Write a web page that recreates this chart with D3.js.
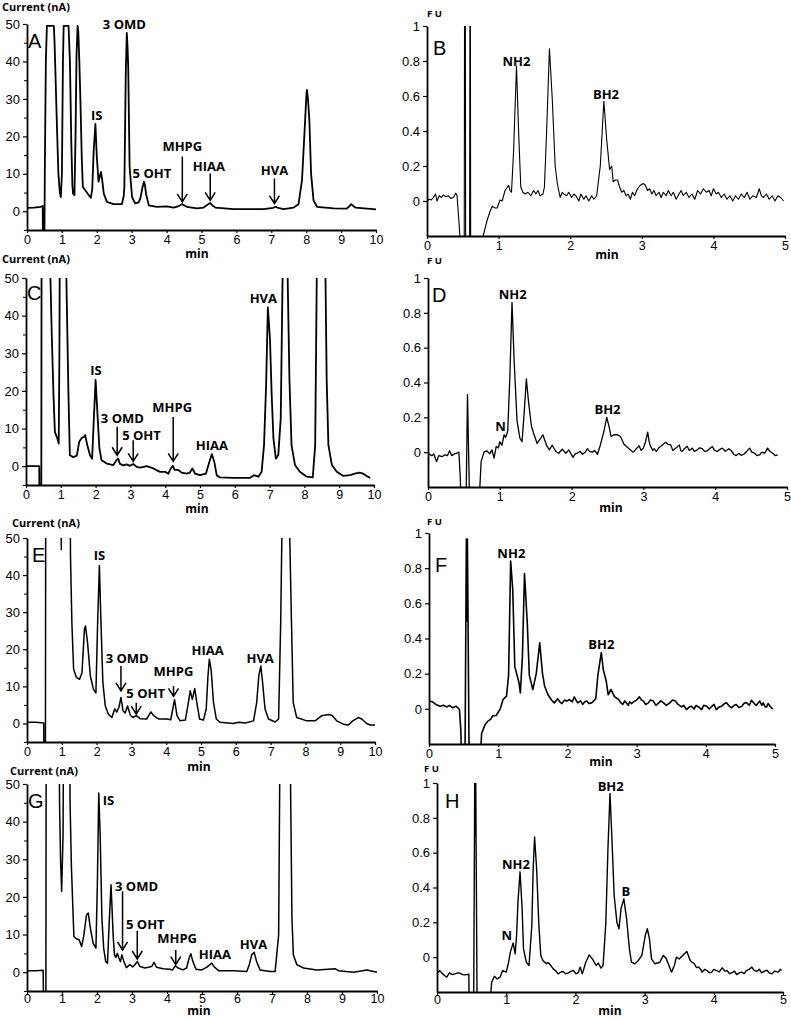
<!DOCTYPE html>
<html><head><meta charset="utf-8">
<script src="https://cdn.jsdelivr.net/npm/d3@7"></script>
<style>body{margin:0;background:#fff} svg{display:block}</style>
</head><body><svg id="c" width="791" height="1019"></svg>
<script>
// ---------- tick values ----------
const ecXTicks = [0,1,2,3,4,5,6,7,8,9,10];
const ecYTicks = [0,10,20,30,40,50];
const ecYMinor = [-5,5,15,25,35,45];
const fuXTicks = [0,1,2,3,4,5];
const fuYTicks = [0,0.2,0.4,0.6,0.8,1];
const fuYTickLabels = ["0","0.2","0.4","0.6","0.8","1"];

// ---------- traces [time(min), signal] ----------
const traceA = [[0,0.9],[0.2,1.0],[0.38,1.2],[0.45,1.4],[0.455,-6],[0.5,-6],[0.51,10],[0.54,40],[0.57,49.5],[0.77,49.5],[0.79,45],[0.81,38.6],[0.86,22],[0.9,10],[0.94,5],[0.97,3.8],[1.0,10],[1.03,40],[1.05,49.5],[1.19,49.5],[1.23,40],[1.27,18],[1.3,7],[1.32,4.7],[1.36,4.3],[1.39,20],[1.42,42],[1.45,49.5],[1.47,48],[1.5,40],[1.53,29.7],[1.57,14],[1.6,6.5],[1.67,5.6],[1.77,4.3],[1.83,3.6],[1.87,6],[1.91,16],[1.96,23.3],[2.0,14.6],[2.05,7.9],[2.09,9.5],[2.12,10.5],[2.16,8],[2.2,4.7],[2.29,2.5],[2.48,1.9],[2.72,1.9],[2.77,4],[2.79,6.5],[2.83,36.9],[2.86,47.6],[2.88,44],[2.9,38.7],[2.94,11.9],[3.01,3.8],[3.1,2.1],[3.2,2.4],[3.25,3.5],[3.3,6],[3.35,7.9],[3.38,7],[3.41,4.7],[3.49,1.6],[3.72,1.2],[4.01,1.3],[4.2,1.0],[4.35,1.4],[4.44,1.9],[4.58,1.2],[4.87,0.8],[5.06,1.0],[5.18,1.8],[5.25,2.2],[5.32,1.5],[5.4,1.0],[5.92,0.6],[6.78,0.6],[7.05,0.9],[7.12,1.2],[7.2,0.9],[7.35,0.6],[7.64,1.0],[7.78,1.9],[7.88,8.3],[7.95,20.8],[8.0,30],[8.02,32.4],[8.05,30],[8.09,24.4],[8.14,10],[8.21,2.9],[8.31,1.2],[8.79,0.8],[9.16,0.7],[9.22,1.2],[9.29,1.9],[9.35,1.4],[9.41,1.0],[10,0.5]];

const traceB = [[0,0.0],[0.03,0.01],[0.06,0.006],[0.09,0.02],[0.12,0.04],[0.14,0.0],[0.17,0.03],[0.2,0.02],[0.23,0.035],[0.26,0.025],[0.3,0.03],[0.33,0.015],[0.37,0.02],[0.4,0.045],[0.42,0.03],[0.46,-0.2],[0.47,-0.3],[0.52,-0.3],[0.525,1.3],[0.535,1.3],[0.54,-0.3],[0.595,-0.3],[0.6,1.3],[0.605,1.3],[0.61,-0.3],[0.77,-0.3],[0.79,-0.19],[0.84,-0.11],[0.88,-0.06],[0.91,-0.03],[0.95,-0.04],[0.98,-0.04],[1.02,0.006],[1.05,0.0],[1.09,0.06],[1.14,0.09],[1.16,0.06],[1.18,0.05],[1.21,0.29],[1.25,0.77],[1.28,0.39],[1.31,0.08],[1.34,0.05],[1.37,0.04],[1.41,0.05],[1.45,0.03],[1.49,0.06],[1.52,0.04],[1.55,0.06],[1.58,0.03],[1.62,0.04],[1.64,0.08],[1.67,0.39],[1.71,0.87],[1.75,0.58],[1.79,0.2],[1.82,0.1],[1.86,0.02],[1.89,0.05],[1.91,0.04],[1.95,0.03],[1.98,0.05],[2.02,0.02],[2.05,0.04],[2.08,0.03],[2.12,0.0],[2.15,0.04],[2.19,0.01],[2.22,0.03],[2.26,0.0],[2.3,0.03],[2.33,0.01],[2.37,0.03],[2.42,0.2],[2.47,0.57],[2.51,0.35],[2.55,0.18],[2.58,0.2],[2.6,0.11],[2.63,0.12],[2.66,0.12],[2.69,0.08],[2.72,0.05],[2.75,0.06],[2.78,0.03],[2.81,0.04],[2.84,0.01],[2.87,0.05],[2.9,0.03],[2.94,0.07],[2.98,0.09],[3.02,0.1],[3.05,0.09],[3.08,0.06],[3.11,0.07],[3.14,0.04],[3.17,0.06],[3.2,0.03],[3.24,0.05],[3.27,0.02],[3.3,0.05],[3.34,0.03],[3.37,0.06],[3.41,0.03],[3.44,0.05],[3.48,0.01],[3.52,0.04],[3.55,0.06],[3.58,0.03],[3.62,0.05],[3.66,0.02],[3.7,0.04],[3.74,0.01],[3.78,0.06],[3.82,0.04],[3.86,0.07],[3.9,0.05],[3.94,0.06],[3.97,0.03],[4.0,0.07],[4.04,0.04],[4.07,0.05],[4.11,0.02],[4.15,0.04],[4.19,0.01],[4.23,0.03],[4.27,0.0],[4.31,0.03],[4.35,0.01],[4.39,0.04],[4.43,0.02],[4.47,0.05],[4.51,0.01],[4.55,0.03],[4.6,0.02],[4.64,0.07],[4.67,0.03],[4.7,0.02],[4.74,0.04],[4.78,0.01],[4.82,0.03],[4.86,0.0],[4.9,0.03],[4.94,0.02],[4.98,0.0]];

const traceC = [[0,0],[0.2,0],[0.38,0],[0.385,-6],[0.44,-6],[0.45,80],[0.68,80],[0.69,55],[0.74,35],[0.79,18.9],[0.83,9.1],[0.9,7.4],[0.94,6],[0.96,30],[0.98,80],[1.14,80],[1.16,50],[1.22,18.9],[1.26,2.9],[1.36,2.4],[1.46,2.8],[1.53,6.5],[1.6,7.5],[1.67,7.8],[1.7,8.3],[1.76,5.6],[1.84,2.9],[1.9,2],[1.95,12.7],[2.0,22.9],[2.05,14.5],[2.11,4.7],[2.17,1.6],[2.32,0.7],[2.51,0.3],[2.6,1.6],[2.65,2],[2.7,0.6],[2.8,0.2],[2.89,0.5],[2.99,0.1],[3.08,0.6],[3.18,-0.2],[3.28,-0.4],[3.47,0],[3.66,-0.6],[3.85,-1.5],[4.0,-1.5],[4.09,-2],[4.16,-0.6],[4.22,0.1],[4.27,-1],[4.38,-1],[4.47,-1.7],[4.62,-2],[4.71,-1.7],[4.78,-0.6],[4.86,-2],[5.0,-2.4],[5.17,-2],[5.27,1.2],[5.34,3.2],[5.41,1.2],[5.48,-2.4],[5.57,-3],[5.96,-3.1],[6.44,-3.1],[6.55,-2.4],[6.68,-2.8],[6.77,-1.5],[6.84,5.6],[6.9,21.6],[6.95,42.2],[7.01,34],[7.06,18.9],[7.11,7.4],[7.18,2],[7.25,3],[7.32,12.7],[7.38,55],[7.4,80],[7.49,80],[7.51,55],[7.57,23.1],[7.63,5.6],[7.73,0.3],[7.87,-1.5],[8.07,-2.8],[8.24,-3],[8.31,5.6],[8.36,55],[8.38,80],[8.58,80],[8.6,55],[8.64,23],[8.69,5.6],[8.79,0.3],[8.93,-1.5],[9.12,-2.6],[9.31,-2.4],[9.45,-2],[9.58,-1.7],[9.69,-2],[9.79,-2.6],[9.89,-3.1]];

const traceD = [[0,-0.006],[0.05,-0.02],[0.08,-0.01],[0.12,-0.054],[0.15,-0.02],[0.2,-0.025],[0.24,-0.015],[0.27,-0.02],[0.3,0.008],[0.33,-0.02],[0.37,-0.01],[0.4,-0.006],[0.43,0.0],[0.45,-0.15],[0.46,-0.3],[0.53,-0.3],[0.55,0.33],[0.58,-0.3],[0.71,-0.3],[0.74,-0.054],[0.78,0],[0.82,0.008],[0.86,-0.01],[0.89,0.013],[0.92,-0.034],[0.95,0.033],[0.98,0.024],[1.0,0.06],[1.03,0.04],[1.06,0.1],[1.08,0.084],[1.11,0.12],[1.14,0.43],[1.17,0.86],[1.2,0.52],[1.24,0.18],[1.28,0.08],[1.31,0.06],[1.34,0.23],[1.37,0.42],[1.4,0.29],[1.44,0.15],[1.47,0.11],[1.52,0.05],[1.57,0.08],[1.6,0.1],[1.65,0.04],[1.69,0.013],[1.73,0.04],[1.78,0.004],[1.82,-0.006],[1.87,0.017],[1.92,-0.006],[1.96,0.013],[2.02,-0.03],[2.05,-0.01],[2.08,-0.006],[2.12,0.005],[2.15,-0.012],[2.19,0.0],[2.22,0.02],[2.25,0.005],[2.29,0.0],[2.32,0.01],[2.36,-0.012],[2.4,0.04],[2.45,0.12],[2.49,0.2],[2.52,0.15],[2.55,0.09],[2.59,0.1],[2.64,0.1],[2.68,0.09],[2.73,0.046],[2.78,0.027],[2.82,0.013],[2.85,0.0],[2.87,0.004],[2.9,0.02],[2.94,0.036],[2.97,0.01],[3.0,0.023],[3.03,0.06],[3.06,0.115],[3.08,0.06],[3.1,0.033],[3.13,0.01],[3.15,0.02],[3.18,0.005],[3.22,0.027],[3.26,0.04],[3.31,0.057],[3.34,0.045],[3.38,0.042],[3.41,0.01],[3.44,0.02],[3.47,0.03],[3.5,0.042],[3.52,0.01],[3.54,0.004],[3.57,0.02],[3.61,0.034],[3.64,0.01],[3.68,0.023],[3.71,0.005],[3.75,0.013],[3.78,0.025],[3.82,0.02],[3.85,0.004],[3.89,0.008],[3.92,0.02],[3.96,0.033],[3.99,0.01],[4.03,0.004],[4.06,0.015],[4.1,0.023],[4.14,0.005],[4.19,0.02],[4.22,0.01],[4.26,-0.012],[4.29,-0.02],[4.33,-0.006],[4.36,-0.018],[4.4,-0.012],[4.44,0.005],[4.48,0.023],[4.51,0.0],[4.55,-0.006],[4.58,-0.02],[4.62,-0.015],[4.65,0.0],[4.69,-0.006],[4.73,0.023],[4.76,0.005],[4.8,-0.006],[4.84,-0.02],[4.87,-0.015]];

const traceE = [[0,0.3],[0.25,0.3],[0.48,0.1],[0.485,-6],[0.53,-6],[0.54,80],[0.975,80],[0.985,46.9],[0.995,80],[1.23,80],[1.25,45],[1.29,27],[1.34,14.6],[1.42,12.4],[1.51,11.9],[1.58,13.7],[1.65,25.4],[1.68,26.3],[1.74,21.8],[1.82,12.8],[1.91,9.2],[1.98,8.2],[2.03,27.2],[2.08,42.6],[2.12,28.9],[2.18,11],[2.25,4.7],[2.34,2.5],[2.44,1.6],[2.52,3.9],[2.58,3.1],[2.64,4.3],[2.7,7],[2.76,3.4],[2.82,2.8],[2.89,4.7],[2.97,2.2],[3.04,1.6],[3.14,2.1],[3.25,1.3],[3.44,1.2],[3.56,3.1],[3.64,2.1],[3.78,1.2],[4.02,1.2],[4.13,1.0],[4.19,3.9],[4.24,6.4],[4.31,2.1],[4.4,0.7],[4.55,0.9],[4.62,4.7],[4.69,8.8],[4.75,6.5],[4.82,9.4],[4.88,5.6],[4.96,1.2],[5.07,0.9],[5.15,3.9],[5.2,12.8],[5.24,17.3],[5.29,14.6],[5.36,5.6],[5.44,1.2],[5.55,0.3],[5.93,0],[6.08,0.3],[6.27,0.1],[6.51,0.7],[6.6,5.6],[6.66,12.8],[6.72,15.5],[6.77,11],[6.84,3.9],[6.94,1.2],[7.13,0.4],[7.23,1.2],[7.29,27.2],[7.33,55],[7.35,80],[7.52,80],[7.54,55],[7.6,27.2],[7.65,5.6],[7.75,1.6],[8.04,0.7],[8.28,0.7],[8.47,2.1],[8.66,2.4],[8.76,2.2],[8.9,0.7],[9.09,-0.2],[9.23,-0.4],[9.36,0.7],[9.52,1.6],[9.62,1.2],[9.76,0],[9.86,-0.4],[10,-0.4]];

const traceF = [[0,0.044],[0.05,0.04],[0.1,0.025],[0.16,0.015],[0.21,0.021],[0.25,0.011],[0.3,0.019],[0.34,0.006],[0.39,0.015],[0.44,-0.004],[0.46,-0.12],[0.47,-0.3],[0.52,-0.3],[0.54,0.966],[0.55,0.5],[0.555,0.966],[0.58,-0.3],[0.74,-0.3],[0.76,-0.14],[0.81,-0.09],[0.85,-0.07],[0.89,-0.06],[0.92,-0.04],[0.97,-0.038],[1.03,0],[1.07,0.053],[1.12,0.072],[1.15,0.19],[1.18,0.84],[1.21,0.68],[1.24,0.24],[1.3,0.15],[1.32,0.09],[1.35,0.3],[1.38,0.77],[1.42,0.49],[1.45,0.19],[1.5,0.11],[1.55,0.2],[1.6,0.375],[1.64,0.2],[1.67,0.13],[1.72,0.08],[1.77,0.05],[1.81,0.034],[1.86,0.057],[1.89,0.04],[1.92,0.03],[1.96,0.05],[1.99,0.044],[2.03,0.053],[2.07,0.04],[2.1,0.068],[2.13,0.045],[2.15,0.034],[2.19,0.045],[2.22,0.025],[2.25,0.04],[2.28,0.044],[2.31,0.03],[2.35,0.034],[2.38,0.045],[2.41,0.057],[2.44,0.19],[2.49,0.32],[2.52,0.22],[2.56,0.16],[2.59,0.08],[2.63,0.11],[2.68,0.07],[2.74,0.053],[2.77,0.035],[2.8,0.025],[2.83,0.045],[2.85,0.034],[2.88,0.02],[2.9,0.04],[2.93,0.03],[2.95,0.038],[3.0,0.05],[3.04,0.068],[3.07,0.05],[3.1,0.044],[3.13,0.025],[3.17,0.034],[3.2,0.05],[3.24,0.044],[3.28,0.02],[3.32,0.034],[3.35,0.045],[3.39,0.034],[3.43,0.02],[3.48,0.034],[3.52,0.05],[3.56,0.044],[3.6,0.025],[3.65,0.011],[3.68,0.02],[3.72,-0.004],[3.76,0.01],[3.79,0.015],[3.83,0.0],[3.86,0.019],[3.9,0.01],[3.94,-0.004],[3.97,0.02],[4.01,0.015],[4.05,0.0],[4.08,0.011],[4.12,0.025],[4.15,-0.004],[4.19,0.01],[4.23,0.015],[4.27,0.03],[4.3,0.034],[4.34,0.015],[4.37,0.006],[4.41,0.02],[4.44,0.025],[4.48,0.008],[4.52,0.015],[4.56,0.035],[4.59,0.034],[4.63,0.02],[4.66,0.049],[4.7,0.03],[4.73,0.019],[4.76,0.035],[4.78,0.044],[4.81,0.02],[4.83,0.034],[4.86,0.01],[4.88,0.011],[4.9,0.03],[4.92,0.019],[4.95,0.005],[4.97,0]];

const traceG = [[0,0.35],[0.25,0.4],[0.46,0.5],[0.47,-6],[0.54,-6],[0.55,80],[0.91,80],[0.93,45],[0.96,29.4],[0.99,21.5],[1.03,36.5],[1.05,80],[1.21,80],[1.23,45],[1.27,27.7],[1.34,9.5],[1.41,8.9],[1.49,8.6],[1.56,6.8],[1.62,9.5],[1.7,15.2],[1.75,15.7],[1.81,11.7],[1.89,7.7],[1.97,6.4],[2.01,23.2],[2.05,47.6],[2.09,36.5],[2.14,14.4],[2.19,6.4],[2.25,2.8],[2.3,2.4],[2.35,13.5],[2.4,23.2],[2.43,17],[2.46,9.9],[2.5,4.6],[2.54,3.9],[2.58,5],[2.62,3.9],[2.67,2.8],[2.71,4.6],[2.77,2.8],[2.84,1.2],[2.94,2],[3.02,1.4],[3.08,2],[3.15,2.8],[3.23,1.5],[3.37,1.1],[3.56,1.5],[3.63,2.6],[3.7,1.3],[3.89,0.9],[4.08,0.8],[4.16,0.6],[4.24,1.7],[4.32,1.1],[4.45,0.6],[4.56,1.1],[4.63,3.7],[4.68,4.9],[4.74,2.8],[4.83,0.8],[4.99,0.6],[5.13,1.3],[5.28,2.4],[5.34,1.5],[5.47,0.4],[5.9,0.4],[6.28,0.2],[6.35,2],[6.42,4.6],[6.49,5.3],[6.56,2.8],[6.66,0.6],[6.95,0.2],[7.09,0.2],[7.19,9.9],[7.22,50],[7.23,80],[7.51,80],[7.53,50],[7.57,14.4],[7.61,4.6],[7.71,2],[7.9,1.1],[8.28,0.6],[8.81,0.9],[8.9,0.4],[9.33,0],[9.71,0.6],[10,0]];

const traceH = [[0,-0.096],[0.04,-0.077],[0.08,-0.096],[0.14,-0.115],[0.18,-0.09],[0.22,-0.1],[0.26,-0.096],[0.3,-0.09],[0.33,-0.092],[0.37,-0.1],[0.4,-0.102],[0.46,-0.098],[0.465,-0.3],[0.53,-0.3],[0.545,1.0],[0.555,0.7],[0.56,1.0],[0.58,-0.3],[0.76,-0.3],[0.79,-0.144],[0.83,-0.11],[0.87,-0.125],[0.91,-0.115],[0.95,-0.077],[1.0,-0.086],[1.03,-0.038],[1.06,0.029],[1.1,0.082],[1.13,0.019],[1.15,0.125],[1.17,0.316],[1.2,0.49],[1.23,0.28],[1.25,0.048],[1.29,-0.029],[1.33,-0.048],[1.37,0.18],[1.39,0.508],[1.41,0.69],[1.44,0.508],[1.47,0.2],[1.5,0.01],[1.53,-0.019],[1.58,-0.038],[1.6,-0.03],[1.63,-0.04],[1.68,-0.067],[1.72,-0.08],[1.75,-0.096],[1.79,-0.085],[1.82,-0.082],[1.86,-0.095],[1.9,-0.09],[1.94,-0.08],[1.97,-0.077],[2.01,-0.095],[2.04,-0.09],[2.07,-0.057],[2.1,-0.096],[2.15,-0.029],[2.2,0.013],[2.25,-0.013],[2.3,-0.048],[2.33,-0.034],[2.37,-0.063],[2.4,-0.048],[2.44,0.2],[2.47,0.62],[2.5,0.94],[2.53,0.66],[2.56,0.354],[2.6,0.2],[2.63,0.163],[2.66,0.28],[2.7,0.335],[2.74,0.22],[2.78,0.048],[2.81,-0.029],[2.86,-0.038],[2.91,-0.019],[2.96,0.01],[3.01,0.125],[3.04,0.163],[3.07,0.105],[3.1,-0.01],[3.15,-0.038],[3.22,-0.029],[3.27,0.01],[3.31,-0.006],[3.36,-0.057],[3.39,-0.086],[3.43,-0.048],[3.46,0],[3.5,-0.01],[3.55,0.01],[3.61,0.033],[3.66,-0.019],[3.69,-0.03],[3.72,-0.038],[3.75,-0.06],[3.78,-0.057],[3.81,-0.07],[3.83,-0.086],[3.87,-0.07],[3.9,-0.077],[3.94,-0.09],[3.97,-0.086],[4.0,-0.07],[4.04,-0.077],[4.08,-0.085],[4.12,-0.061],[4.16,-0.08],[4.19,-0.077],[4.23,-0.095],[4.26,-0.09],[4.3,-0.08],[4.33,-0.1],[4.37,-0.09],[4.4,-0.086],[4.44,-0.095],[4.47,-0.077],[4.51,-0.07],[4.55,-0.057],[4.58,-0.075],[4.62,-0.082],[4.66,-0.07],[4.69,-0.09],[4.73,-0.08],[4.77,-0.075],[4.8,-0.09],[4.84,-0.096],[4.88,-0.08],[4.93,-0.086],[4.96,-0.07],[4.98,-0.077]];

// ---------- peak labels [text, time, signal] ----------
const labelsA = [["IS",2.0,25.7],["3 OMD",2.79,49.9],["5 OHT",3.58,10.1],["MHPG",4.45,17.2],["HIAA",5.21,12.1],["HVA",7.09,10.8]];
const labelsB = [["NH2",1.25,0.8],["BH2",2.5,0.61]];
const labelsC = [["IS",2.01,25.5],["3 OMD",2.77,12.7],["5 OHT",3.32,8.1],["MHPG",4.2,15.7],["HIAA",5.34,5.4],["HVA",6.82,44.5]];
const labelsD = [["N",1.01,0.148],["NH2",1.18,0.906],["BH2",2.5,0.247]];
const labelsE = [["IS",2.08,45.3],["3 OMD",2.88,17.5],["5 OHT",3.41,8.2],["MHPG",4.21,14],["HIAA",5.19,19.7],["HVA",6.7,17.4]];
const labelsF = [["NH2",1.19,0.884],["BH2",2.49,0.367]];
const labelsG = [["IS",2.33,45.5],["3 OMD",3.13,22.8],["5 OHT",3.38,12.6],["MHPG",4.29,8.9],["HIAA",5.37,4.6],["HVA",6.47,7.3]];
const labelsH = [["N",1.01,0.125],["NH2",1.14,0.53],["BH2",2.51,0.98],["B",2.73,0.375]];

// ---------- arrows [time, from signal, to signal] ----------
const arrowsA = [[4.45,14.6,2.5],[5.25,10.1,2.9],[7.09,8.75,2.05]];
const arrowsC = [[2.62,10.5,2.9],[3.08,6.9,1.3],[4.23,13.1,1.3]];
const arrowsE = [[2.7,15.5,8.8],[3.14,5.6,2.5],[4.21,10.1,7.3]];
const arrowsG = [[2.73,21.5,5.9],[3.15,11,3.5],[4.25,5.9,2.0]];

const panels = [
  {id:"A", kind:"ec", trace:traceA, labels:labelsA, arrows:arrowsA, box:[27,376,24,230], letter:[28,48], unit:[2,7], minPos:[197,254], tickOff:9.5, lw:1.8},
  {id:"B", kind:"fu", trace:traceB, labels:labelsB, arrows:[], box:[427,785,26,236], letter:[433,55], unit:[427,14], minPos:[607,255], tickOff:9.5, lw:1.1},
  {id:"C", kind:"ec", trace:traceC, labels:labelsC, arrows:arrowsC, box:[26,374,278,485], letter:[27,300], unit:[2,259], minPos:[197,509], tickOff:9.5, lw:1.8},
  {id:"D", kind:"fu", trace:traceD, labels:labelsD, arrows:[], box:[428,787,278,487], letter:[432,302], unit:[427,261], minPos:[611,508], tickOff:9.5, lw:1.3},
  {id:"E", kind:"ec", trace:traceE, labels:labelsE, arrows:arrowsE, box:[27,375,538,742], letter:[32,562], unit:[12,523], minPos:[199,767], tickOff:9.5, lw:1.5},
  {id:"F", kind:"fu", trace:traceF, labels:labelsF, arrows:[], box:[429,775,533,744], letter:[435,572], unit:[427,522], minPos:[601,762], tickOff:9.5, lw:1.6},
  {id:"G", kind:"ec", trace:traceG, labels:labelsG, arrows:arrowsG, box:[27,377,784,991], letter:[28,808], unit:[10,771], minPos:[199,1010.5], tickOff:8, lw:1.5},
  {id:"H", kind:"fu", trace:traceH, labels:labelsH, arrows:[], box:[437,783,783,992], letter:[445,808], unit:[424,769], minPos:[610,1010.5], tickOff:8, lw:1.4}
];

const svg = d3.select("#c");
const tickFont = "'Liberation Sans', Arial, sans-serif";
const boldFont = "'Open Sans', 'DejaVu Sans', sans-serif";

panels.forEach(p => {
  const [x0,x1,y0,y1] = p.box;
  const ec = p.kind === "ec";
  const x = d3.scaleLinear().domain(ec ? [0,10] : [0,5]).range([x0,x1]);
  const y = d3.scaleLinear().domain(ec ? [-5,50] : [-0.2,1]).range([y1,y0]);
  const g = svg.append("g");

  const cid = "clip" + p.id;
  svg.append("clipPath").attr("id", cid).append("rect")
    .attr("x", x0).attr("y", y0).attr("width", x1 - x0 + 2).attr("height", y1 - y0);

  const line = d3.line().x(d => x(d[0])).y(d => y(d[1]));
  g.append("path").datum(p.trace).attr("d", line).attr("clip-path", `url(#${cid})`)
    .attr("fill","none").attr("stroke","#000").attr("stroke-width", p.lw).attr("stroke-linejoin","round");

  const xAxis = d3.axisBottom(x).tickValues(ec ? ecXTicks : fuXTicks).tickSize(3).tickSizeOuter(0).tickFormat(d3.format("d"));
  const gx = g.append("g").attr("transform", `translate(0,${y1})`).call(xAxis);
  gx.selectAll("text").attr("y", p.tickOff).attr("dy", "0.35em").style("font-family", tickFont).style("font-size", "12.5px").attr("fill","#000");

  const yAxis = d3.axisLeft(y).tickValues(ec ? ecYTicks : fuYTicks).tickSize(4).tickSizeOuter(0)
     .tickFormat((d,i) => ec ? d3.format("d")(d) : fuYTickLabels[i]);
  const gy = g.append("g").attr("transform", `translate(${x0},0)`).call(yAxis);
  gy.selectAll("text").attr("x", -7).style("font-family", tickFont).style("font-size", "13px").attr("fill","#000");
  if (ec) {
    const gm = g.append("g").attr("transform", `translate(${x0},0)`)
      .call(d3.axisLeft(y).tickValues(ecYMinor).tickSize(3).tickSizeOuter(0).tickFormat(""));
    gm.select(".domain").remove();
  }
  [gx, gy].forEach(a => { a.select(".domain").attr("stroke-width", 1.8); a.selectAll(".tick line").attr("stroke-width", 1.2); });

  g.append("text").attr("x", p.unit[0]).attr("y", p.unit[1]).attr("dy","0.35em")
    .text(ec ? "Current (nA)" : "F U")
    .style("font-family", boldFont).style("font-weight", "700").style("font-size", ec ? "11px" : "9.5px");

  g.append("text").attr("x", p.minPos[0]).attr("y", p.minPos[1]).attr("dy","0.35em").attr("text-anchor","middle")
    .text("min").style("font-family", boldFont).style("font-weight","700").style("font-size","12px");

  g.append("text").attr("x", p.letter[0]).attr("y", p.letter[1]).text(p.id)
    .style("font-family", tickFont).style("font-size","20px");

  g.selectAll("text.pk").data(p.labels).enter().append("text").attr("class","pk")
    .attr("x", d => x(d[1])).attr("y", d => y(d[2])).attr("dy","0.35em").attr("text-anchor","middle")
    .text(d => d[0]).style("font-family", boldFont).style("font-weight","700").style("font-size","13px");

  p.arrows.forEach(a => {
    const ax = x(a[0]), ya = y(a[1]), yb = y(a[2]);
    g.append("path").attr("d", `M${ax},${ya}V${yb}M${ax-5},${yb-8}L${ax},${yb}L${ax+5},${yb-8}`)
      .attr("fill","none").attr("stroke","#000").attr("stroke-width",1.5);
  });
});
</script></body></html>
